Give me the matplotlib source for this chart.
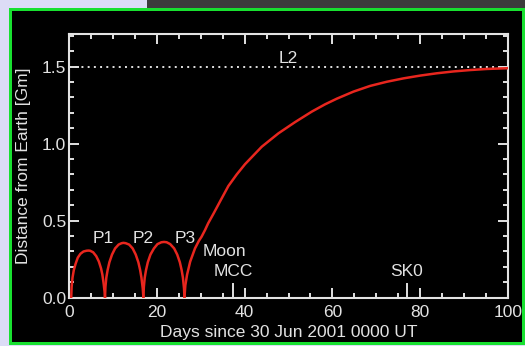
import matplotlib
matplotlib.use("Agg")
import matplotlib.pyplot as plt
from matplotlib.patches import Rectangle
from matplotlib.ticker import MultipleLocator

plt.rcParams['font.family'] = ['Liberation Sans', 'DejaVu Sans']

# ---- data ----
p1_days = [0.5, 0.6, 0.8, 1.1, 1.5, 2.0, 2.6, 3.3, 4.0, 4.4, 4.8, 5.5, 6.2, 6.8, 7.3, 7.6, 7.9, 8.1, 8.2]
p1_dist = [0.0, 0.07, 0.13, 0.18, 0.22, 0.26, 0.285, 0.300, 0.305, 0.306, 0.305, 0.295, 0.27, 0.235, 0.19, 0.15, 0.09, 0.04, 0.0]

p2_days = [8.2, 8.3, 8.5, 8.8, 9.2, 9.8, 10.5, 11.3, 12.0, 12.4, 12.9, 13.7, 14.5, 15.2, 15.8, 16.2, 16.5, 16.8, 16.95]
p2_dist = [0.0, 0.07, 0.13, 0.18, 0.23, 0.28, 0.32, 0.345, 0.354, 0.356, 0.354, 0.345, 0.32, 0.28, 0.23, 0.18, 0.13, 0.06, 0.0]

p3_days = [16.95, 17.05, 17.25, 17.55, 17.95, 18.55, 19.35, 20.15, 21.05, 21.65, 22.25, 23.05, 23.95, 24.65, 25.25, 25.65, 25.95, 26.2, 26.3]
p3_dist = [0.0, 0.07, 0.13, 0.18, 0.23, 0.28, 0.32, 0.348, 0.360, 0.362, 0.360, 0.348, 0.32, 0.28, 0.23, 0.18, 0.13, 0.06, 0.0]

tr_days = [26.3, 26.5, 26.9, 27.6, 28.7, 29.6, 30.2, 31.0, 31.7, 33.0, 34.5, 36.3, 38.2, 40.1, 43.9, 47.7,
           51.5, 55.3, 58.3, 61.0, 64.8, 68.6, 72.4, 76.2, 80.0, 83.8, 87.6, 91.4, 95.2, 100.0]
tr_dist = [0.0, 0.08, 0.15, 0.234, 0.32, 0.37, 0.396, 0.44, 0.483, 0.55, 0.63, 0.725, 0.80, 0.867, 0.98, 1.067,
           1.14, 1.208, 1.255, 1.292, 1.338, 1.375, 1.402, 1.424, 1.442, 1.457, 1.469, 1.478, 1.485, 1.49]

l2_dist = 1.5
hop_labels = ['P1', 'P2', 'P3']
hop_label_days = [7.8, 16.9, 26.4]
hop_label_dist = [0.385, 0.385, 0.385]
event_labels = ['Moon', 'MCC', 'SK0']
event_label_days = [35.5, 37.4, 76.9]
event_label_dist = [0.30, 0.17, 0.17]
event_tick_days = [37.4, 76.9]

# ---- figure ----
W, H = 525, 346
fig = plt.figure(figsize=(W / 100, H / 100), dpi=100)
fig.patch.set_facecolor('#dcdcf6')

def px_rect(x0, y0, x1, y1, **kw):
    fig.patches.append(Rectangle((x0 / W, 1 - y1 / H), (x1 - x0) / W, (y1 - y0) / H,
                                 transform=fig.transFigure, figure=fig, zorder=-10, **kw))

px_rect(147, 0, 525, 8, facecolor='#3c3c3c', edgecolor='none')
px_rect(9, 8, 525, 345, facecolor='#18e030', edgecolor='none')
px_rect(12, 11, 522, 342, facecolor='black', edgecolor='none')

ax = fig.add_axes([69 / W, 1 - 297.7 / H, (508 - 69) / W, (297.7 - 34) / H])
ax.set_facecolor('black')
ax.patch.set_alpha(0)

fg = '#e2e2e2'
red = '#e8261e'
fs = 12.5

for d, v in [(p1_days, p1_dist), (p2_days, p2_dist), (p3_days, p3_dist), (tr_days, tr_dist)]:
    ax.plot(d, v, color=red, lw=1.8, solid_capstyle='round', solid_joinstyle='round', zorder=3)

ax.axhline(l2_dist, color=fg, lw=1.4, ls=(0, (1, 2.2)), zorder=2)
ax.text(49.9, l2_dist + 0.005, 'L2', color=fg, fontsize=fs, ha='center', va='bottom')

for lab, d, v in zip(hop_labels, hop_label_days, hop_label_dist):
    ax.text(d, v, lab, color=fg, fontsize=fs, ha='center', va='center')
for lab, d, v in zip(event_labels, event_label_days, event_label_dist):
    ax.text(d, v, lab, color=fg, fontsize=fs, ha='center', va='center')
for d in event_tick_days:
    ax.plot([d, d], [0, 0.09], color=fg, lw=1.4, zorder=2)

ax.set_xlim(0, 100)
ax.set_ylim(0, 1.712)
ax.xaxis.set_major_locator(MultipleLocator(20))
ax.xaxis.set_minor_locator(MultipleLocator(5))
ax.yaxis.set_major_locator(MultipleLocator(0.5))
ax.yaxis.set_minor_locator(MultipleLocator(0.1))
ax.xaxis.set_major_formatter(matplotlib.ticker.FuncFormatter(lambda v, p: f'{v:.0f}'))
ax.yaxis.set_major_formatter(matplotlib.ticker.FuncFormatter(lambda v, p: f'{v:.1f}'))

ax.tick_params(which='both', direction='in', top=True, right=True, colors=fg,
               labelcolor=fg, labelsize=fs, width=1.4)
ax.tick_params(which='major', length=7)
ax.tick_params(which='minor', length=3.5)
ax.tick_params(axis='x', pad=5.5)
ax.tick_params(axis='y', pad=2)
for s in ax.spines.values():
    s.set_color(fg)
    s.set_linewidth(1.5)

ax.set_xlabel('Days since 30 Jun 2001 0000 UT', color=fg, fontsize=fs, labelpad=3)
ax.set_ylabel('Distance from Earth [Gm]', color=fg, fontsize=fs, labelpad=8)

fig.savefig('out.png', dpi=100, facecolor=fig.get_facecolor())
